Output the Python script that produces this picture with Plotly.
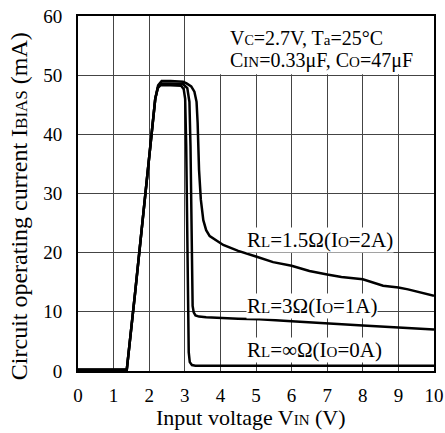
import plotly.graph_objects as go

# ---- data ----
v_0A = [0, 1.37, 1.6, 1.9, 2.17, 2.24, 2.32, 2.6, 2.9, 2.97, 3.01, 3.04, 3.07, 3.09, 3.11, 3.14, 3.2, 3.3, 5, 7, 10]
i_0A = [0.2, 0.2, 13, 30, 46, 47.8, 48.3, 48.3, 48.2, 47.6, 46, 38, 20, 8, 3.2, 1.5, 1.0, 0.9, 0.9, 0.9, 0.9]

v_1A = [0, 1.37, 1.6, 1.9, 2.17, 2.25, 2.34, 2.6, 2.95, 3.07, 3.13, 3.16, 3.18, 3.2, 3.22, 3.25, 3.3, 3.4, 3.6, 4.5, 5.1, 6, 7, 8, 9, 10]
i_1A = [0.2, 0.2, 13, 30, 46, 48.0, 48.6, 48.6, 48.5, 47.8, 45.5, 38, 25, 14, 11, 9.9, 9.4, 9.2, 9.1, 8.85, 8.75, 8.4, 8.1, 7.7, 7.35, 7.0]

v_2A = [0, 1.37, 1.6, 1.9, 2.17, 2.25, 2.35, 2.6, 2.95, 3.05, 3.18, 3.27, 3.33, 3.36, 3.4, 3.45, 3.52, 3.6, 3.7, 4.08, 4.5, 5.02, 5.48, 6.0, 6.5, 7.0, 7.4, 8.0, 8.3, 8.57, 9.0, 9.27, 10]
i_2A = [0.2, 0.2, 13, 30, 46, 48.3, 49.0, 49.0, 48.9, 48.6, 48.1, 47.2, 45.5, 42, 34, 29, 25.5, 23.8, 22.8, 21.3, 20.3, 19.3, 18.4, 17.8, 16.9, 16.3, 15.9, 15.5, 14.9, 14.4, 14.1, 13.8, 12.7]

x_ticks = list(range(0, 11))
y_ticks = list(range(0, 61, 10))

FONT = "Liberation Serif, Tinos, Times New Roman, serif"


def sub(t, size):
    return "<span style='font-size:%dpx'>%s</span>" % (size, t)


fig = go.Figure()
for v, i in [(v_0A, i_0A), (v_1A, i_1A), (v_2A, i_2A)]:
    fig.add_trace(go.Scatter(x=v, y=i, mode="lines",
                             line=dict(color="black", width=2.5),
                             showlegend=False, hoverinfo="skip"))

# white box behind condition text (hides grid lines)
fig.add_shape(type="rect", x0=3.03, x1=10, y0=50.15, y1=60,
              fillcolor="white", line=dict(width=0), layer="between")

ann = []
box = [
    dict(x=4.22, y=56.2, text="V" + sub("C", 14) + "=2.7V, T" + sub("a", 15) + "=25°C"),
    dict(x=4.22, y=52.5, text="C" + sub("IN", 15) + "=0.33μF, C" + sub("O", 15) + "=47μF"),
]
for a in box:
    a.update(xref="x", yref="y", xanchor="left", yanchor="middle", showarrow=False,
             font=dict(family=FONT, size=20, color="black"))
    ann.append(a)

labels = [
    dict(x=4.72, y=22.1, text="R" + sub("L", 15) + "=1.5Ω(I" + sub("O", 15) + "=2A)"),
    dict(x=4.72, y=11.06, text="R" + sub("L", 15) + "=3Ω(I" + sub("O", 15) + "=1A)"),
    dict(x=4.72, y=3.55, text="R" + sub("L", 15) + "=∞Ω(I" + sub("O", 15) + "=0A)"),
]
for a in labels:
    a.update(xref="x", yref="y", xanchor="left", yanchor="middle", showarrow=False,
             bgcolor="white", borderpad=0, font=dict(family=FONT, size=21, color="black"))
    ann.append(a)

# axis titles
ann.append(dict(xref="paper", yref="paper", x=0.487, y=-0.132, xanchor="center", yanchor="middle",
                text="Input voltage V" + sub("IN", 15) + " (V)", showarrow=False,
                font=dict(family=FONT, size=22, color="black")))
ann.append(dict(xref="paper", yref="paper", x=-0.165, y=0.465, xanchor="center", yanchor="middle",
                textangle=-90, text="Circuit operating current I" + sub("BIAS", 17) + " (mA)",
                showarrow=False, font=dict(family=FONT, size=24, color="black")))

fig.update_layout(
    width=445, height=433,
    margin=dict(l=78, r=11, t=16, b=62, autoexpand=False),
    paper_bgcolor="white", plot_bgcolor="white",
    annotations=ann,
    font=dict(family=FONT, size=18, color="black"),
)
fig.update_xaxes(range=[0, 10], tickvals=x_ticks, showgrid=True, gridcolor="#444", gridwidth=1,
                 showline=True, linecolor="black", linewidth=2, mirror=True, ticks="",
                 zeroline=False, automargin=False, ticklabelstandoff=6,
                 tickfont=dict(family=FONT, size=19))
fig.update_yaxes(range=[0, 60], tickvals=y_ticks, showgrid=True, gridcolor="#444", gridwidth=1,
                 showline=True, linecolor="black", linewidth=2, mirror=True, ticks="",
                 zeroline=False, automargin=False, ticklabelstandoff=10,
                 tickfont=dict(family=FONT, size=19))

fig.write_html("out.html")
